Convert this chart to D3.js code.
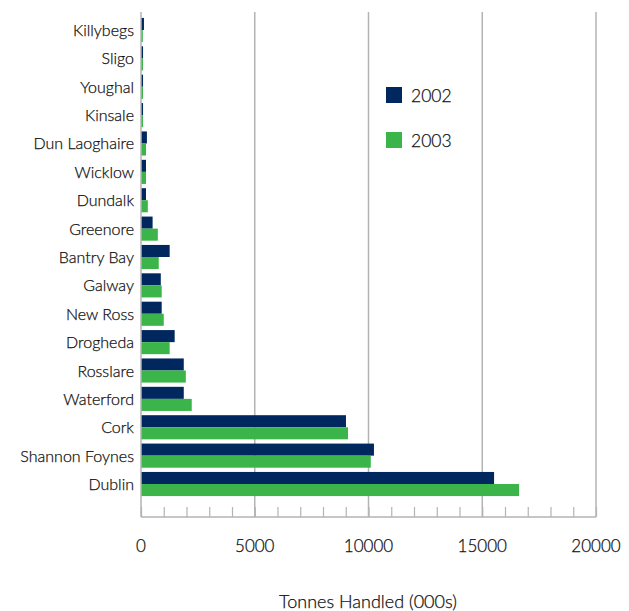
<!DOCTYPE html>
<html>
<head>
<meta charset="utf-8">
<script src="https://cdn.jsdelivr.net/npm/d3@7"></script>
<style>
  html, body { margin: 0; padding: 0; background: #fff; }
  svg text { font-family: Lato, "Open Sans", sans-serif; font-weight: 300; fill: #111; stroke: #111; stroke-width: 0.25; }
</style>
</head>
<body>
<svg id="chart" width="629" height="611"></svg>
<script>
// Port throughput, tonnes handled (000s)
const ports = ["Killybegs", "Sligo", "Youghal", "Kinsale", "Dun Laoghaire", "Wicklow", "Dundalk",
  "Greenore", "Bantry Bay", "Galway", "New Ross", "Drogheda", "Rosslare", "Waterford",
  "Cork", "Shannon Foynes", "Dublin"];
const tonnes2002 = [130, 90, 90, 90, 260, 220, 220, 510, 1260, 870, 910, 1480, 1880, 1880, 9010, 10240, 15520];
const tonnes2003 = [80, 90, 90, 90, 220, 220, 300, 740, 780, 910, 1000, 1260, 1970, 2230, 9100, 10100, 16620];
const years = ["2002", "2003"];
const colors = ["#00285e", "#3bb54a"];
const xTicks = [0, 5000, 10000, 15000, 20000];

const svg = d3.select("#chart");
const plotLeft = 141, plotRight = 596, plotTop = 12, plotBottom = 517;

const x = d3.scaleLinear().domain([0, 20000]).range([plotLeft, plotRight]);
const y = d3.scaleBand().domain(ports).range([15.8, 498.2]).paddingInner(0.15).paddingOuter(0.075);
const sub = d3.scaleBand().domain(years).range([0, y.bandwidth()]);

const gray = "#b3b3b3";

// Vertical gridlines at major ticks
svg.append("g").selectAll("line").data(xTicks.slice(1)).join("line")
  .attr("x1", d => x(d)).attr("x2", d => x(d))
  .attr("y1", plotTop).attr("y2", plotBottom)
  .attr("stroke", gray).attr("stroke-width", 1.5);

// Bars
const series = [tonnes2002, tonnes2003];
series.forEach((vals, si) => {
  svg.append("g").selectAll("rect").data(ports).join("rect")
    .attr("x", x(0))
    .attr("y", (d) => y(d) + sub(years[si]))
    .attr("width", (d, i) => x(vals[i]) - x(0))
    .attr("height", sub.bandwidth())
    .attr("fill", colors[si]);
});

// Value axis line with minor ticks
const xAxis = d3.axisBottom(x).tickValues(d3.range(0, 20001, 1000)).tickSize(-10).tickFormat("");
const gx = svg.append("g").attr("transform", `translate(0,${plotBottom})`).call(xAxis);
gx.select(".domain").attr("stroke", gray).attr("stroke-width", 1.5).attr("d", `M${plotLeft},0H${plotRight}`);
gx.selectAll(".tick line").attr("stroke", gray).attr("stroke-width", 1.2);

// Category axis line
svg.append("line").attr("x1", plotLeft).attr("x2", plotLeft).attr("y1", plotTop).attr("y2", plotBottom)
  .attr("stroke", gray).attr("stroke-width", 1.5);

// Tick labels
svg.append("g").selectAll("text").data(xTicks).join("text")
  .attr("x", d => x(d)).attr("y", 552)
  .attr("text-anchor", "middle").attr("font-size", 17)
  .text(d => d);

// Category labels
svg.append("g").selectAll("text").data(ports).join("text")
  .attr("x", 134).attr("y", d => y(d) + y.bandwidth() / 2 + 6)
  .attr("text-anchor", "end").attr("font-size", 16)
  .text(d => d);

// Axis title
svg.append("text").attr("x", 368).attr("y", 608).attr("text-anchor", "middle")
  .attr("font-size", 18).text("Tonnes Handled (000s)");

// Legend
const lg = svg.append("g");
years.forEach((yr, i) => {
  lg.append("rect").attr("x", 386).attr("y", 87 + i * 45).attr("width", 16).attr("height", 16).attr("fill", colors[i]);
  lg.append("text").attr("x", 411).attr("y", 102 + i * 45).attr("font-size", 17.5).text(yr);
});
</script>
</body>
</html>
